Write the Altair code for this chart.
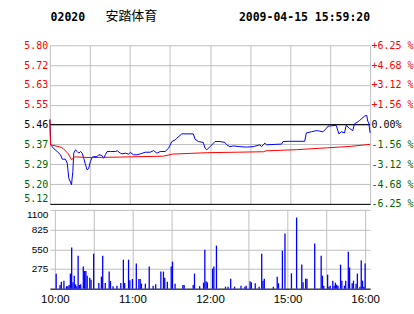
import altair as alt
import pandas as pd

# ---------------- data ----------------
stock_code = "02020"
stock_name = "安踏体育"
timestamp = "2009-04-15 15:59:20"
prev_close = 5.46

price_min = [0, 0.6, 3, 5.5, 8, 9.3, 11.7, 13, 14.2, 16.2, 17.2, 17.9, 19.2, 20.5, 21.7, 23, 24.2,
             25.4, 26.7, 27.9, 29, 30.4, 31.7, 33, 35.4, 36.6, 39, 40.3, 41.6, 42.9, 45.5, 49, 50.5,
             52.9, 54.1, 56.5, 59, 60.3, 62.7, 65.3, 67.7, 71.5, 75.2, 77.7, 80.2, 82.7, 86.4, 88.9,
             91.4, 93.9, 95.1, 98.9, 107.5, 108.8, 111.3, 115, 116.3, 117.6, 120, 123.8, 127.5,
             131.2, 132.5, 135, 137.4, 142.4, 147.4, 152.4, 157.4, 158.6, 161.1, 162.4, 173.6,
             174.8, 179.8, 191, 192.2, 196, 199.7, 202.2, 204.6, 207.2, 208.4, 214.6, 216.6, 218.4,
             220.8, 222.1, 224.6, 227, 228.3, 230.8, 232, 235.8, 237.5, 238.2, 239, 240]
price_val = [5.480, 5.373, 5.356, 5.344, 5.330, 5.311, 5.311, 5.294, 5.229, 5.201, 5.258, 5.337,
             5.351, 5.344, 5.337, 5.344, 5.337, 5.315, 5.287, 5.265, 5.270, 5.301, 5.320, 5.322,
             5.322, 5.330, 5.327, 5.315, 5.330, 5.344, 5.344, 5.344, 5.347, 5.337, 5.334, 5.337,
             5.333, 5.340, 5.330, 5.330, 5.334, 5.341, 5.341, 5.348, 5.337, 5.344, 5.344, 5.358,
             5.387, 5.394, 5.401, 5.420, 5.420, 5.397, 5.387, 5.383, 5.358, 5.351, 5.365, 5.387,
             5.387, 5.383, 5.373, 5.365, 5.368, 5.365, 5.363, 5.365, 5.373, 5.365, 5.380, 5.373,
             5.376, 5.387, 5.388, 5.388, 5.424, 5.429, 5.434, 5.432, 5.429, 5.443, 5.453, 5.457,
             5.420, 5.429, 5.424, 5.457, 5.443, 5.434, 5.463, 5.472, 5.477, 5.496, 5.500, 5.475,
             5.467, 5.424]

avg_min = [0, 0.5, 7.5, 10, 13.7, 16.2, 18.7, 30, 52, 85, 92, 118, 160, 162, 185, 208, 225, 240]
avg_val = [5.483, 5.373, 5.364, 5.357, 5.335, 5.309, 5.321, 5.318, 5.320, 5.324, 5.333, 5.339,
           5.343, 5.347, 5.352, 5.360, 5.366, 5.375]

vol_min = [1, 4, 5, 7, 9, 10, 11, 12, 13, 14, 15, 16, 17, 18, 19, 20, 22, 23, 24, 25, 27, 28, 30,
           34, 36, 37, 39, 42, 43, 45, 48, 51, 53, 54, 57, 58, 60, 63, 65, 66, 67, 70, 73, 76, 78,
           82, 84, 85, 87, 90, 91, 93, 99, 100, 107, 108, 112, 115, 116, 117, 118, 122, 123, 125,
           132, 134, 136, 139, 144, 147, 148, 151, 152, 155, 158, 160, 161, 162, 169, 172, 173,
           176, 178, 183, 187, 191, 192, 194, 195, 201, 206, 207, 208, 211, 212, 213, 215, 216,
           217, 218, 219, 221, 222, 224, 225, 227, 228, 230, 231, 233, 234, 236, 237, 238, 239, 240]
vol_val = [210, 52, 98, 112, 33, 33, 52, 210, 573, 88, 182, 60, 33, 461, 52, 60, 308, 247, 247,
           182, 154, 126, 489, 79, 168, 461, 79, 238, 107, 33, 42, 79, 405, 79, 405, 117, 135, 350,
           135, 135, 70, 70, 308, 42, 60, 238, 238, 154, 98, 308, 377, 70, 52, 52, 52, 210, 33, 84,
           545, 103, 88, 280, 308, 601, 28, 28, 140, 28, 42, 28, 42, 103, 88, 75, 28, 489, 112,
           140, 28, 168, 75, 531, 769, 214, 993, 336, 88, 140, 140, 629, 461, 182, 42, 196, 28, 42,
           112, 42, 84, 56, 42, 336, 112, 42, 112, 517, 294, 75, 112, 70, 210, 28, 392, 112, 28, 350]

pct_ticks = [6.25, 4.6875, 3.125, 1.5625, 0, -1.5625, -3.125, -4.6875, -6.25]
pct_labels = ["+6.25 %", "+4.68 %", "+3.12 %", "+1.56 %", "\u00a00.00%", "-1.56 %", "-3.12 %",
              "-4.68 %", "-6.25 %"]
time_ticks = [0, 30, 60, 90, 120, 150, 180, 210, 240]
time_labels = ["10:00", "", "11:00", "", "12:00", "", "15:00", "", "16:00"]
vol_ticks = [0, 275, 550, 825, 1100]
vol_labels = ["", "275", "550", "825", "1100"]

# ---------------- helpers ----------------
def label_expr(ticks, labels, tol):
    parts = [f"abs(datum.value - ({t})) < {tol} ? '{l}'" for t, l in zip(ticks, labels)]
    return " : ".join(parts) + " : ''"

price_ticks = [round(prev_close * (1 + p / 100), 6) for p in pct_ticks]
price_lo = prev_close * (1 - 0.0625)
price_hi = prev_close * (1 + 0.0625)

RED = "#ff0000"
GREEN = "#006400"
GRID = "#c0c0c0"
MONO = "DejaVu Sans Mono"
SANS = "Liberation Sans"

price_df = pd.DataFrame({"minute": price_min, "price": price_val})
avg_df = pd.DataFrame({"minute": avg_min, "price": avg_val})
vol_df = pd.DataFrame({"minute": vol_min, "volume": vol_val})
ref_df = pd.DataFrame({"price": [prev_close]})
pct_df = pd.DataFrame({"pct": [0.0]})

x_scale = alt.Scale(domain=[0, 240], nice=False, zero=False)
x_top = alt.X("minute:Q", scale=x_scale,
              axis=alt.Axis(values=time_ticks, grid=True, gridColor=GRID, labels=False,
                            ticks=False, domain=True, domainColor="#000000", domainWidth=1,
                            title=None, minExtent=0, maxExtent=0))
price_scale = alt.Scale(domain=[price_lo, price_hi], nice=False, zero=False)
left_axis = alt.Axis(values=price_ticks, format=".2f", grid=True, gridColor=GRID, ticks=False,
                     domain=False, labelFont=MONO, labelFontSize=10, labelPadding=2,
                     labelColor={"condition": [
                         {"test": f"datum.value > {prev_close + 0.005}", "value": RED},
                         {"test": f"datum.value < {prev_close - 0.005}", "value": GREEN}],
                         "value": "#000000"},
                     labelBaseline={"condition": {"test": f"datum.value < {price_lo + 0.001}",
                                                  "value": "bottom"},
                                    "value": "middle"},
                     title=None, labelOverlap=False)

ref_rule = alt.Chart(ref_df).mark_rule(color="#000000", strokeWidth=1).encode(
    y=alt.Y("price:Q", scale=price_scale, axis=left_axis))
price_line = alt.Chart(price_df).mark_line(color="#0000ff", strokeWidth=1).encode(
    x=x_top, y=alt.Y("price:Q", scale=price_scale, axis=left_axis))
avg_line = alt.Chart(avg_df).mark_line(color=RED, strokeWidth=1).encode(
    x=x_top, y=alt.Y("price:Q", scale=price_scale, axis=left_axis))

code_txt = alt.Chart(pd.DataFrame({"t": [stock_code]})).mark_text(
    align="left", baseline="alphabetic", font=MONO, fontSize=11.5, fontWeight="bold",
    color="#000000").encode(text="t:N", x=alt.value(0.7), y=alt.value(-24))
name_txt = alt.Chart(pd.DataFrame({"t": [stock_name]})).mark_text(
    align="left", baseline="alphabetic", font="Noto Sans CJK SC", fontSize=13,
    color="#000000").encode(text="t:N", x=alt.value(55.7), y=alt.value(-25))
time_txt = alt.Chart(pd.DataFrame({"t": [timestamp]})).mark_text(
    align="right", baseline="alphabetic", font=MONO, fontSize=11.5, fontWeight="bold",
    color="#000000").encode(text="t:N", x=alt.value(321), y=alt.value(-24))

pct_layer = alt.Chart(pct_df).mark_rule(opacity=0).encode(
    y=alt.Y("pct:Q", scale=alt.Scale(domain=[-6.25, 6.25], nice=False, zero=False),
            axis=alt.Axis(orient="right", values=pct_ticks,
                          labelExpr=label_expr(pct_ticks, pct_labels, 0.01),
                          grid=False, ticks=False, domain=False, labelFont=MONO,
                          labelFontSize=10, labelPadding=1, labelAlign="left",
                          labelOverlap=False,
                          labelColor={"condition": [
                              {"test": "datum.value > 0.01", "value": RED},
                              {"test": "datum.value < -0.01", "value": GREEN}],
                              "value": "#000000"},
                          title=None)))

top = alt.layer(
    alt.layer(ref_rule, price_line, avg_line, code_txt, name_txt, time_txt),
    pct_layer,
).resolve_scale(y="independent").properties(width=321, height=159)

bottom = alt.Chart(vol_df).mark_bar(size=1.3, color="#0000ff").encode(
    x=alt.X("minute:Q", scale=x_scale,
            axis=alt.Axis(values=time_ticks,
                          labelExpr=label_expr(time_ticks, time_labels, 0.5),
                          grid=True, gridColor=GRID, ticks=False, domain=True,
                          domainColor="#000000", labelFont=SANS, labelFontSize=11.5,
                          labelPadding=5, labelFlush=False, labelOverlap=False,
                          labelColor="#000000", title=None)),
    y=alt.Y("volume:Q", scale=alt.Scale(domain=[0, 1100], nice=False),
            axis=alt.Axis(values=vol_ticks,
                          labelExpr=label_expr(vol_ticks, vol_labels, 1),
                          grid=True, gridColor=GRID, ticks=False, domain=False,
                          labelFont=SANS, labelFontSize=10, labelPadding=2,
                          labelBaseline={"condition": {"test": "datum.value > 1099",
                                                       "value": "top"},
                                         "value": "middle"},
                          labelOverlap=False, labelColor="#000000", title=None)),
).properties(width=321, height=79)

chart = alt.vconcat(top, bottom, spacing=6, bounds="flush").properties(
    padding={"left": 23, "top": 10, "right": 0, "bottom": 0},
    background="#ffffff",
).configure_view(stroke=None)

chart.save("out.html", embed_options={"renderer": "svg", "actions": False})
